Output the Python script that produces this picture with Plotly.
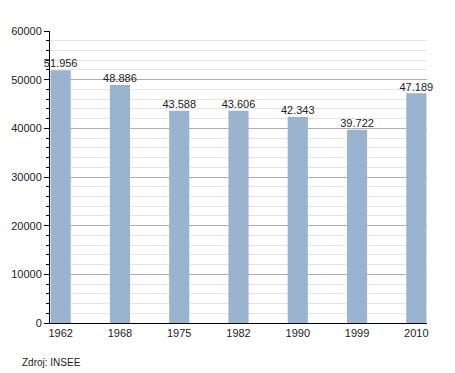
import plotly.graph_objects as go

years = ["1962", "1968", "1975", "1982", "1990", "1999", "2010"]
population = [51956, 48886, 43588, 43606, 42343, 39722, 47189]
labels = ["51.956", "48.886", "43.588", "43.606", "42.343", "39.722", "47.189"]

fig = go.Figure()
fig.add_trace(go.Bar(
    x=years, y=population,
    marker=dict(color="#9ab3cf", line=dict(width=0)),
    width=0.34, hoverinfo="skip",
))
fig.add_trace(go.Scatter(
    x=years, y=population, text=labels, mode="text", textposition="top center",
    textfont=dict(size=11, color="#222"), cliponaxis=False, hoverinfo="skip",
))

fig.update_layout(
    width=447, height=365,
    margin=dict(l=42, r=28, t=23, b=50, autoexpand=False),
    paper_bgcolor="white", plot_bgcolor="white",
    font=dict(family="Liberation Sans, Arial, sans-serif", size=11, color="#222"),
    showlegend=False,
)
fig.update_xaxes(
    type="category", range=[-0.18, 6.18], automargin=False,
    showline=True, linecolor="black", linewidth=1,
    ticks="", showgrid=False, tickfont=dict(size=11), ticklabelstandoff=0,
)
fig.update_yaxes(
    range=[0, 60000], dtick=10000, tickformat="d", automargin=False,
    showline=True, linecolor="black", linewidth=1,
    ticks="outside", ticklen=5, tickcolor="black",
    gridcolor="#b0b0b0", gridwidth=1,
    minor=dict(dtick=2000, showgrid=True, gridcolor="#e6e6e6", ticks="outside", ticklen=3, tickcolor="black"),
    zeroline=False, tickfont=dict(size=11),
)
fig.add_annotation(text="Zdroj: INSEE", xref="paper", yref="paper", x=-0.08, y=-0.134,
                   xanchor="left", yanchor="middle", showarrow=False, font=dict(size=10, color="#222"))
fig.write_html("out.html")
